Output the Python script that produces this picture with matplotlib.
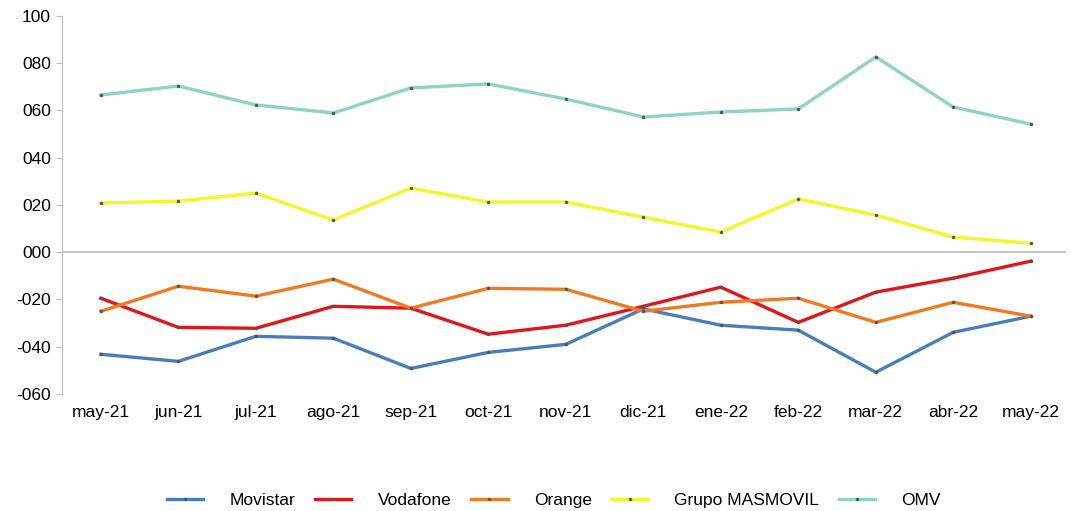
import matplotlib
matplotlib.use('Agg')
import matplotlib.pyplot as plt
from matplotlib.ticker import FuncFormatter

plt.rcParams['font.family'] = ['Liberation Sans', 'DejaVu Sans']

months = ['may-21', 'jun-21', 'jul-21', 'ago-21', 'sep-21', 'oct-21', 'nov-21',
          'dic-21', 'ene-22', 'feb-22', 'mar-22', 'abr-22', 'may-22']

movistar = [-43.2, -46.2, -35.6, -36.4, -49.2, -42.4, -39.0, -24.0, -30.9, -33.0, -50.8, -33.9, -27.1]
vodafone = [-19.5, -31.8, -32.2, -22.9, -23.7, -34.7, -30.9, -22.9, -14.8, -29.7, -16.9, -11.0, -3.8]
orange = [-25.0, -14.4, -18.6, -11.4, -23.7, -15.3, -15.7, -25.0, -21.2, -19.5, -29.7, -21.2, -27.1]
masmovil = [20.8, 21.6, 25.0, 13.6, 27.1, 21.2, 21.2, 14.8, 8.5, 22.5, 15.7, 6.4, 3.8]
omv = [66.5, 70.3, 62.3, 58.9, 69.5, 71.2, 64.8, 57.2, 59.3, 60.6, 82.6, 61.4, 54.2]

series = [('Movistar', movistar, '#4a7ebb'),
          ('Vodafone', vodafone, '#e0161b'),
          ('Orange', orange, '#f07a23'),
          ('Grupo MASMOVIL', masmovil, '#f5f52a'),
          ('OMV', omv, '#8fd3c3')]

fig = plt.figure(figsize=(10.71, 5.11), dpi=100)
ax = fig.add_axes([0.058, 0.229, 0.937, 0.74])

x = list(range(len(months)))
for name, vals, col in series:
    ax.plot(x, vals, color=col, lw=2.4, marker='o', markersize=2.5,
            markerfacecolor='#555555', markeredgecolor='none', label=name)

ax.axhline(0, color='#c8c8c8', lw=1.5, zorder=0)
ax.set_ylim(-60, 100)
ax.set_yticks(range(-60, 101, 20))
ax.yaxis.set_major_formatter(FuncFormatter(
    lambda v, p: ('-' if v < 0 else '') + '{:03d}'.format(int(abs(round(v))))))
ax.set_xlim(-0.5, 12.45)
ax.set_xticks(x)
ax.set_xticklabels(months)

for s in ['top', 'right', 'bottom']:
    ax.spines[s].set_visible(False)
ax.spines['left'].set_color('#bfbfbf')
ax.tick_params(axis='y', color='#bfbfbf', length=4, labelsize=12.5, pad=4)
ax.tick_params(axis='x', length=0, labelsize=12.5, pad=8)

ax.legend(loc='upper center', bbox_to_anchor=(0.49, -0.22), ncol=5, frameon=False,
          fontsize=12.5, handlelength=2.1, columnspacing=1.15, handletextpad=1.5)

fig.savefig('out.png', dpi=100)
